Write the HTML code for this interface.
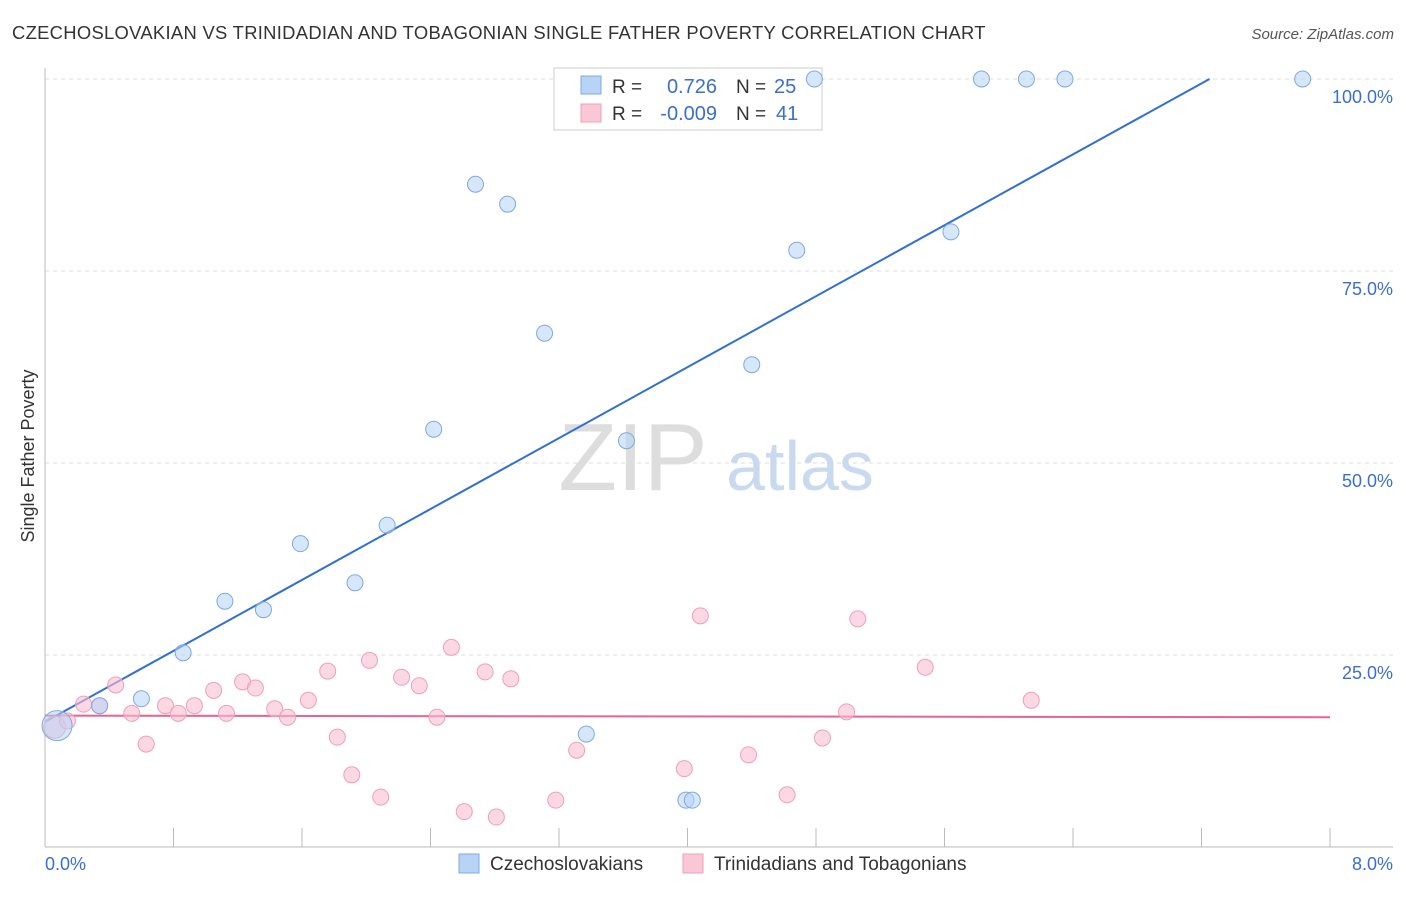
<!DOCTYPE html>
<html><head><meta charset="utf-8"><style>
body{margin:0;background:#fff;font-family:"Liberation Sans",sans-serif;}
svg text{font-family:"Liberation Sans",sans-serif;}
</style></head><body>
<svg width="1406" height="892">
<text x="12" y="39" font-size="18.4" letter-spacing="0.3" fill="#333">CZECHOSLOVAKIAN VS TRINIDADIAN AND TOBAGONIAN SINGLE FATHER POVERTY CORRELATION CHART</text>
<text x="1394" y="39" font-size="15" fill="#555" font-style="italic" text-anchor="end">Source: ZipAtlas.com</text>
<g id="grid"></g>
<g id="axes"></g>
<text x="633" y="490" font-size="96" fill="#ddd" font-family="Liberation Serif" text-anchor="middle">ZIP</text>
<text x="800" y="490" font-size="70" fill="#c9d9f0" text-anchor="middle">atlas</text>
<text transform="translate(34,456) rotate(-90)" font-size="18" fill="#333" text-anchor="middle">Single Father Poverty</text>
<text x="45" y="870" font-size="18" fill="#3a6fd1">0.0%</text>
<text x="1393" y="870" font-size="18" fill="#3a6fd1" text-anchor="end">8.0%</text>
<g>
<rect x="554" y="68" width="268" height="62" fill="#fff" stroke="#ccc"/>
<rect x="581" y="76" width="20" height="18" fill="#b7d3f5" stroke="#7fa9e0"/>
<rect x="581" y="104" width="20" height="18" fill="#fac7d6" stroke="#eea0b8"/>
<text x="612" y="93" font-size="19" fill="#333">R =</text>
<text x="717" y="93" font-size="20" fill="#3a6fd1" text-anchor="end">0.726</text>
<text x="736" y="93" font-size="19" fill="#333">N =</text>
<text x="774" y="93" font-size="20" fill="#3a6fd1">25</text>
<text x="612" y="120" font-size="19" fill="#333">R =</text>
<text x="717" y="120" font-size="20" fill="#3a6fd1" text-anchor="end">-0.009</text>
<text x="736" y="120" font-size="19" fill="#333">N =</text>
<text x="776" y="120" font-size="20" fill="#3a6fd1">41</text>
</g>
<g id="lines"></g>
<g id="points"></g>
<g>
<rect x="459" y="854" width="20" height="19" fill="#b7d3f5" stroke="#7fa9e0"/>
<text x="490" y="870" font-size="19" fill="#333">Czechoslovakians</text>
<rect x="683" y="854" width="20" height="19" fill="#fac7d6" stroke="#eea0b8"/>
<text x="714" y="870" font-size="19" fill="#333">Trinidadians and Tobagonians</text>
</g>
</svg>
<script>
const yTicks=[25,50,75,100];
const yTickLabels=["25.0%","50.0%","75.0%","100.0%"];
const xTicks=[0.8,1.6,2.4,3.2,4.0,4.8,5.6,6.4,7.2,8.0];
const czX=[0.075,0.34,0.60,0.86,1.12,1.36,1.59,1.93,2.13,2.42,2.68,2.88,3.11,3.37,3.62,3.99,4.03,4.40,4.68,4.79,5.64,5.83,6.11,6.35,7.83];
const czY=[15.8,18.4,19.3,25.3,32.0,30.9,39.5,34.4,41.9,54.4,86.3,83.7,66.9,14.7,52.9,6.1,6.1,62.8,77.7,100,80.1,100,100,100,100];
const trX=[0.06,0.14,0.24,0.34,0.44,0.54,0.63,0.75,0.83,0.93,1.05,1.13,1.23,1.31,1.43,1.51,1.64,1.76,1.82,1.91,2.02,2.09,2.22,2.33,2.44,2.53,2.61,2.74,2.81,2.90,3.18,3.31,3.98,4.08,4.38,4.62,4.84,4.99,5.06,5.48,6.14];
const trY=[15.6,16.4,18.6,18.4,21.1,17.4,13.4,18.4,17.4,18.4,20.4,17.4,21.5,20.7,18.0,16.9,19.1,22.9,14.3,9.4,24.3,6.5,22.1,21.0,16.9,26.0,4.6,22.8,3.9,21.9,6.1,12.6,10.2,30.1,12.0,6.8,14.2,17.6,29.7,23.4,19.1];
const czFit=[16.3,100,7.25];
const trFit=[17.1,16.9,8.0];
const NS="http://www.w3.org/2000/svg";
const sx=v=>45+v/8*1285, sy=v=>847-v*7.68;
function mk(t,a,p){const e=document.createElementNS(NS,t);for(const k in a)e.setAttribute(k,a[k]);document.getElementById(p).appendChild(e);return e;}
yTicks.forEach((t,i)=>{
 const l=mk('line',{x1:45,x2:1393,y1:sy(t),y2:sy(t),stroke:'#ddd','stroke-dasharray':'4,4'},'grid');
 
 
 const tx=mk('text',{x:1393,y:sy(t)+24,'font-size':18,fill:'#3a6fd1','text-anchor':'end'},'grid');
 tx.textContent=yTickLabels[i];
 
 
});
let a=mk('line',{x1:45,x2:45,y1:68,y2:847,stroke:'#bbb'},'axes');


a=mk('line',{x1:45,x2:1393,y1:847,y2:847,stroke:'#bbb'},'axes');


xTicks.forEach(t=>{
 const l=mk('line',{x1:sx(t),x2:sx(t),y1:828,y2:847,stroke:'#bbb'},'axes');
 
 
});
let ln=mk('line',{x1:sx(0),y1:sy(czFit[0]),x2:sx(czFit[2]),y2:sy(czFit[1]),stroke:'#2f6fd6','stroke-width':2},'lines');


ln=mk('line',{x1:sx(0),y1:sy(trFit[0]),x2:sx(trFit[2]),y2:sy(trFit[1]),stroke:'#e8638d','stroke-width':2},'lines');


trX.forEach((x,i)=>{
 const c=mk('circle',{cx:sx(x),cy:sy(trY[i]),r:i==0?11:8,fill:'rgba(248,190,208,0.6)',stroke:'#eea0b8','stroke-width':1},'points');
 
 
});
czX.forEach((x,i)=>{
 const c=mk('circle',{cx:sx(x),cy:sy(czY[i]),r:i==0?15:8,fill:'rgba(183,211,245,0.55)',stroke:'#7fa9e0','stroke-width':1},'points');
 
 
});
</script>
</body></html>
